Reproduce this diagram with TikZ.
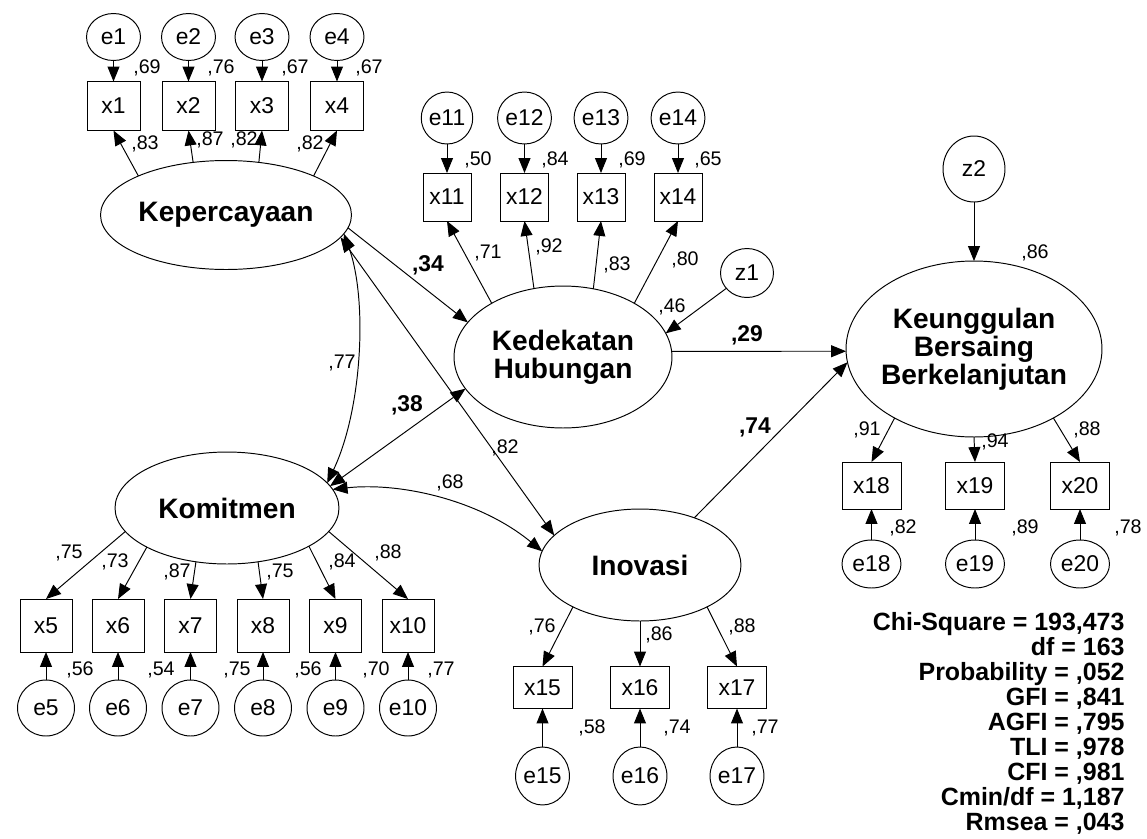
\documentclass[tikz,border=0pt]{standalone}
\usepackage{fontspec}
\setmainfont{Liberation Sans}
\usepackage{tikz}
\usetikzlibrary{shapes,arrows.meta,positioning,calc}
\tikzstyle{obs} = [draw,rectangle,inner sep=0pt,outer sep=0pt,font=\fontsize{13}{13}\selectfont]
\tikzstyle{err} = [draw,ellipse,inner sep=0pt,outer sep=0pt,font=\fontsize{13}{13}\selectfont]
\tikzstyle{lat} = [draw,ellipse,inner sep=-6pt,outer sep=0pt,align=center,font=\fontsize{16}{16}\selectfont\bfseries]
\tikzstyle{val} = [inner sep=0pt,font=\fontsize{11.2}{11.2}\selectfont]
\tikzstyle{coef} = [inner sep=0pt,font=\fontsize{13}{13}\selectfont\bfseries]
\tikzset{>={Triangle[length=8.5pt,width=6.8pt]}}

\begin{document}
\begin{tikzpicture}[x=0.02cm,y=-0.02cm,line width=0.55pt]
    \useasboundingbox (0,0) rectangle (1147,839);
    % latent variables
    \node [lat,minimum width=5.02cm,minimum height=2.18cm] (Kep) at (226,215) {Kepercayaan};
    \node [lat,minimum width=4.36cm,minimum height=2.84cm] (Ked) at (563,357) {Kedekatan\\Hubungan};
    \node [lat,minimum width=4.48cm,minimum height=2.24cm] (Kom) at (227,508) {Komitmen};
    \node [lat,minimum width=4.04cm,minimum height=2.24cm] (Ino) at (640,565) {Inovasi};
    \node [lat,minimum width=5.12cm,minimum height=3.52cm] (Keu) at (974,349) {Keunggulan\\Bersaing\\Berkelanjutan};
    \node [err,minimum width=1.06cm,minimum height=0.98cm] (z1) at (747,273) {z1};
    \node [err,minimum width=1.24cm,minimum height=1.32cm] (z2) at (974,169) {z2};

    % Kepercayaan
    \node [obs,minimum width=1.06cm,minimum height=0.98cm] (x1) at (113.5,106) {x1};
    \node [obs,minimum width=1.06cm,minimum height=0.98cm] (x2) at (188.5,106) {x2};
    \node [obs,minimum width=1.06cm,minimum height=0.98cm] (x3) at (262,106) {x3};
    \node [obs,minimum width=1.06cm,minimum height=0.98cm] (x4) at (337,106) {x4};
    \node [err,minimum width=1.08cm,minimum height=0.94cm] (e1) at (113.5,37) {e1};
    \node [err,minimum width=1.08cm,minimum height=0.94cm] (e2) at (188.5,37) {e2};
    \node [err,minimum width=1.08cm,minimum height=0.94cm] (e3) at (262,37) {e3};
    \node [err,minimum width=1.08cm,minimum height=0.94cm] (e4) at (337,37) {e4};

    % Kedekatan Hubungan
    \node [obs,minimum width=0.96cm,minimum height=0.96cm] (x11) at (447,197) {x11};
    \node [obs,minimum width=0.96cm,minimum height=0.96cm] (x12) at (524.5,197) {x12};
    \node [obs,minimum width=0.96cm,minimum height=0.96cm] (x13) at (601,197) {x13};
    \node [obs,minimum width=0.96cm,minimum height=0.96cm] (x14) at (678,197) {x14};
    \node [err,minimum width=1.02cm,minimum height=1.04cm] (e11) at (447,118) {e11};
    \node [err,minimum width=1.02cm,minimum height=1.04cm] (e12) at (524.5,118) {e12};
    \node [err,minimum width=1.02cm,minimum height=1.04cm] (e13) at (601,118) {e13};
    \node [err,minimum width=1.02cm,minimum height=1.04cm] (e14) at (678,118) {e14};

    % Komitmen
    \node [obs,minimum width=1.04cm,minimum height=1.06cm] (x5) at (46,625.5) {x5};
    \node [obs,minimum width=1.04cm,minimum height=1.06cm] (x6) at (118,625.5) {x6};
    \node [obs,minimum width=1.04cm,minimum height=1.06cm] (x7) at (190.5,625.5) {x7};
    \node [obs,minimum width=1.04cm,minimum height=1.06cm] (x8) at (263,625.5) {x8};
    \node [obs,minimum width=1.04cm,minimum height=1.06cm] (x9) at (335.5,625.5) {x9};
    \node [obs,minimum width=1.04cm,minimum height=1.06cm] (x10) at (408,625.5) {x10};
    \node [err,minimum width=1.14cm,minimum height=1.12cm] (e5) at (46,708) {e5};
    \node [err,minimum width=1.14cm,minimum height=1.12cm] (e6) at (118,708) {e6};
    \node [err,minimum width=1.14cm,minimum height=1.12cm] (e7) at (190.5,708) {e7};
    \node [err,minimum width=1.14cm,minimum height=1.12cm] (e8) at (263,708) {e8};
    \node [err,minimum width=1.14cm,minimum height=1.12cm] (e9) at (335.5,708) {e9};
    \node [err,minimum width=1.14cm,minimum height=1.12cm] (e10) at (408,708) {e10};

    % Inovasi
    \node [obs,minimum width=1.18cm,minimum height=0.84cm] (x15) at (542.5,687.5) {x15};
    \node [obs,minimum width=1.18cm,minimum height=0.84cm] (x16) at (640,687.5) {x16};
    \node [obs,minimum width=1.18cm,minimum height=0.84cm] (x17) at (737,687.5) {x17};
    \node [err,minimum width=0.98cm,minimum height=1.16cm] (e15) at (542.5,776) {e15};
    \node [err,minimum width=0.98cm,minimum height=1.16cm] (e16) at (640,776) {e16};
    \node [err,minimum width=0.98cm,minimum height=1.16cm] (e17) at (737,776) {e17};

    % Keunggulan Bersaing Berkelanjutan
    \node [obs,minimum width=1.18cm,minimum height=0.94cm] (x18) at (871.5,485.5) {x18};
    \node [obs,minimum width=1.18cm,minimum height=0.94cm] (x19) at (975,485.5) {x19};
    \node [obs,minimum width=1.18cm,minimum height=0.94cm] (x20) at (1080,485.5) {x20};
    \node [err,minimum width=1.18cm,minimum height=0.96cm] (e18) at (871.5,564) {e18};
    \node [err,minimum width=1.18cm,minimum height=0.96cm] (e19) at (975,564) {e19};
    \node [err,minimum width=1.18cm,minimum height=0.96cm] (e20) at (1080,564) {e20};

    % error arrows
    \draw [->] (e1) -- (x1);
    \draw [->] (e2) -- (x2);
    \draw [->] (e3) -- (x3);
    \draw [->] (e4) -- (x4);
    \draw [->] (e11) -- (x11);
    \draw [->] (e12) -- (x12);
    \draw [->] (e13) -- (x13);
    \draw [->] (e14) -- (x14);
    \draw [->] (e5) -- (x5);
    \draw [->] (e6) -- (x6);
    \draw [->] (e7) -- (x7);
    \draw [->] (e8) -- (x8);
    \draw [->] (e9) -- (x9);
    \draw [->] (e10) -- (x10);
    \draw [->] (e15) -- (x15);
    \draw [->] (e16) -- (x16);
    \draw [->] (e17) -- (x17);
    \draw [->] (e18) -- (x18);
    \draw [->] (e19) -- (x19);
    \draw [->] (e20) -- (x20);

    % loadings
    \draw [->] (Kep.156) -- (x1.south);
    \draw [->] (Kep.122) -- (x2.south);
    \draw [->] (Kep.58) -- (x3.south);
    \draw [->] (Kep.24) -- (x4.south);
    \draw [->] (Ked.143) -- (x11.south);
    \draw [->] (Ked.113) -- (x12.south);
    \draw [->] (Ked.66) -- (x13.south);
    \draw [->] (Ked.37) -- (x14.south);
    \draw [->] (Kom.193) -- (x5.north);
    \draw [->] (Kom.206) -- (x6.north);
    \draw [->] (Kom.240) -- (x7.north);
    \draw [->] (Kom.300) -- (x8.north);
    \draw [->] (Kom.335) -- (x9.north);
    \draw [->] (Kom.347) -- (x10.north);
    \draw [->] (Ino.212) -- (x15.north);
    \draw [->] (Ino.270) -- (x16.north);
    \draw [->] (Ino.328) -- (x17.north);
    \draw [->] (Keu.221) -- (x18.north);
    \draw [->] (Keu.270) -- (x19.north);
    \draw [->] (Keu.319.5) -- (x20.north);

    % structural paths
    \draw [->] (Kep.-6) -- (Ked.160);
    \draw [->] (Ked.3) -- (Keu.181);
    \draw [->] (Ino.41) -- (Keu.186);
    \draw [->] (z1) -- (Ked.13);
    \draw [->] (z2) -- (Keu);
    \draw [<->] (Kep.-9) .. controls (368,300) and (362,410) .. (Kom.14);
    \draw [<->] (Kep.-11) -- (Ino.161);
    \draw [<->] (Ked.198) -- (Kom.12);
    \draw [<->] (Kom.10) .. controls (400,482) and (480,500) .. (Ino.172);

    % estimates
    \node [val] (r1) at (147,68) {,69};
    \node [val] (r2) at (221,68) {,76};
    \node [val] (r3) at (295,68) {,67};
    \node [val] (r4) at (369,68) {,67};
    \node [val] (l1) at (145,144) {,83};
    \node [val] (l2) at (210,140) {,87};
    \node [val] (l3) at (244,140) {,82};
    \node [val] (l4) at (310,144) {,82};
    \node [val] (r11) at (478,160) {,50};
    \node [val] (r12) at (555,160) {,84};
    \node [val] (r13) at (632,160) {,69};
    \node [val] (r14) at (708,160) {,65};
    \node [val] (l11) at (488,253) {,71};
    \node [val] (l12) at (549,247) {,92};
    \node [val] (l13) at (617,265) {,83};
    \node [val] (l14) at (685,260) {,80};
    \node [val] (rz1) at (672,307) {,46};
    \node [val] (rz2) at (1035,253) {,86};
    \node [val] (l5) at (69,553) {,75};
    \node [val] (l6) at (115,562) {,73};
    \node [val] (l7) at (177,572) {,87};
    \node [val] (l8) at (280,572) {,75};
    \node [val] (l9) at (342,562) {,84};
    \node [val] (l10) at (388,553) {,88};
    \node [val] (r5) at (80,670) {,56};
    \node [val] (r6) at (161,670) {,54};
    \node [val] (r7) at (237,670) {,75};
    \node [val] (r8) at (308,670) {,56};
    \node [val] (r9) at (376,670) {,70};
    \node [val] (r10) at (441,670) {,77};
    \node [val] (l15) at (542,627) {,76};
    \node [val] (l16) at (659,635) {,86};
    \node [val] (l17) at (742,627) {,88};
    \node [val] (r15) at (592,728) {,58};
    \node [val] (r16) at (677,728) {,74};
    \node [val] (r17) at (765,728) {,77};
    \node [val] (l18) at (867,430) {,91};
    \node [val] (l19) at (995,442) {,94};
    \node [val] (l20) at (1087,430) {,88};
    \node [val] (r18) at (903,528) {,82};
    \node [val] (r19) at (1025,528) {,89};
    \node [val] (r20) at (1128,528) {,78};
    \node [val] (c1) at (342,363) {,77};
    \node [val] (c2) at (505,448) {,82};
    \node [val] (c3) at (450,483) {,68};
    \node [coef] (b1) at (428,265) {,34};
    \node [coef] (b2) at (747,335) {,29};
    \node [coef] (b3) at (407,405) {,38};
    \node [coef] (b4) at (755,427) {,74};

    % fit
    \node [anchor=north east,inner sep=0pt,align=right,font=\fontsize{14.2}{14.2}\selectfont\bfseries] (fit) at (1125,612)
      {Chi-Square = 193,473\\df = 163\\Probability = ,052\\GFI = ,841\\AGFI = ,795\\TLI = ,978\\CFI = ,981\\Cmin/df = 1,187\\Rmsea = ,043};
\end{tikzpicture}
\end{document}
